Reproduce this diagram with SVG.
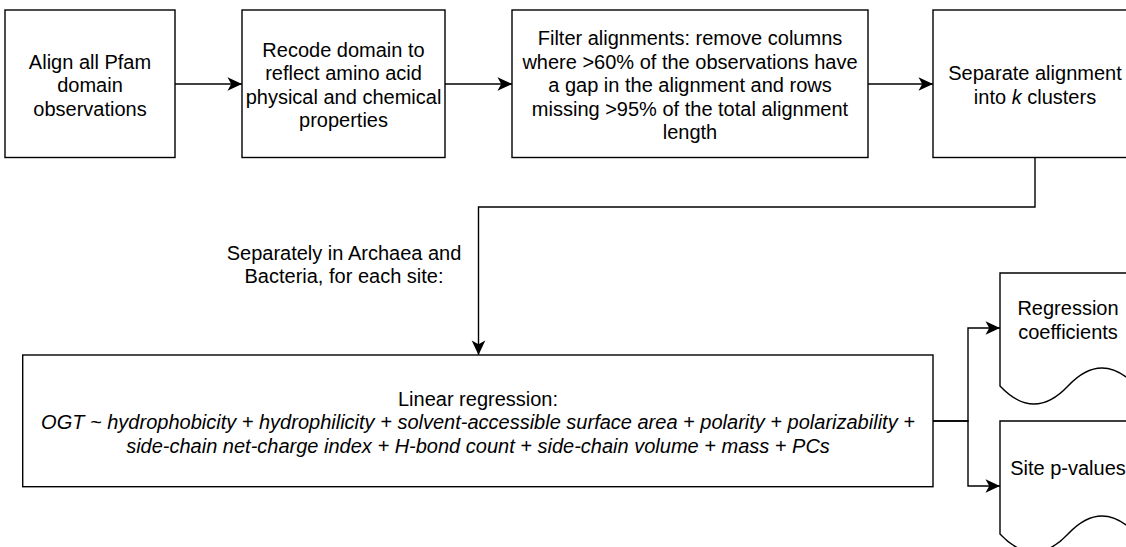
<svg xmlns="http://www.w3.org/2000/svg" width="1126" height="547" viewBox="0 0 1126 547">
<style>
.box{fill:#fff;stroke:#000;stroke-width:1.4}
.t{font-family:"Liberation Sans",Arial,Helvetica,sans-serif;font-size:20px;fill:#000;text-anchor:middle}
.i{font-style:italic}
.c{fill:none;stroke:#000;stroke-width:1.4}
</style>
<defs>
<marker id="arr" markerUnits="userSpaceOnUse" viewBox="-15 -8 16 16" refX="0" refY="0" markerWidth="16" markerHeight="16" orient="auto">
<path d="M0,0 L-14.5,-6.8 L-10.8,0 L-14.5,6.8 Z" fill="#000"/>
</marker>
</defs>
<rect width="1126" height="547" fill="#fff"/>
<g id="connectors">
<path class="c" d="M175,84 H242" marker-end="url(#arr)"/>
<path class="c" d="M445,84 H512" marker-end="url(#arr)"/>
<path class="c" d="M868,84 H933" marker-end="url(#arr)"/>
<path class="c" d="M1035,158 V207 H478.5 V355" marker-end="url(#arr)"/>
<path class="c" d="M933,421 H968 V328 H1000" marker-end="url(#arr)"/>
<path class="c" d="M933,421 H968 V486 H1000" marker-end="url(#arr)"/>
<text class="t"><tspan x="344" y="259.5">Separately in Archaea and</tspan><tspan x="344" y="283">Bacteria, for each site:</tspan></text>
</g>
<g id="align">
<rect class="box" x="5" y="10" width="170" height="147.5"/>
<text class="t"><tspan x="90" y="68.5">Align all Pfam</tspan><tspan x="90" y="92">domain</tspan><tspan x="90" y="115.5">observations</tspan></text>
</g>
<g id="recode">
<rect class="box" x="242" y="10" width="203" height="147.5"/>
<text class="t"><tspan x="343.5" y="56.75">Recode domain to</tspan><tspan x="343.5" y="80.25">reflect amino acid</tspan><tspan x="343.5" y="103.75">physical and chemical</tspan><tspan x="343.5" y="127.25">properties</tspan></text>
</g>
<g id="filter">
<rect class="box" x="512" y="10" width="356" height="147.5"/>
<text class="t"><tspan x="690" y="45">Filter alignments: remove columns</tspan><tspan x="690" y="68.5">where &gt;60% of the observations have</tspan><tspan x="690" y="92">a gap in the alignment and rows</tspan><tspan x="690" y="115.5">missing &gt;95% of the total alignment</tspan><tspan x="690" y="139">length</tspan></text>
</g>
<g id="separate">
<rect class="box" x="933" y="10" width="204" height="147.5"/>
<text class="t"><tspan x="1035" y="80.25">Separate alignment</tspan><tspan x="1035" y="103.75">into <tspan class="i">k</tspan> clusters</tspan></text>
</g>
<g id="regression">
<rect class="box" x="22.7" y="355" width="910.3" height="131.7"/>
<text class="t"><tspan x="478" y="405.8">Linear regression:</tspan><tspan class="i" x="478" y="429.3">OGT ~ hydrophobicity + hydrophilicity + solvent-accessible surface area + polarity + polarizability +</tspan><tspan class="i" x="478" y="452.8">side-chain net-charge index + H-bond count + side-chain volume + mass + PCs</tspan></text>
</g>
<g id="coefficients">
<path class="box" d="M1000,273 H1136 V386 Q1102,350 1068,386 Q1034,422 1000,386 Z"/>
<text class="t"><tspan x="1068" y="315.25">Regression</tspan><tspan x="1068" y="338.75">coefficients</tspan></text>
</g>
<g id="pvalues">
<path class="box" d="M1000,421 H1136 V534 Q1102,498 1068,534 Q1034,570 1000,534 Z"/>
<text class="t"><tspan x="1068" y="475.3">Site p-values</tspan></text>
</g>
</svg>
